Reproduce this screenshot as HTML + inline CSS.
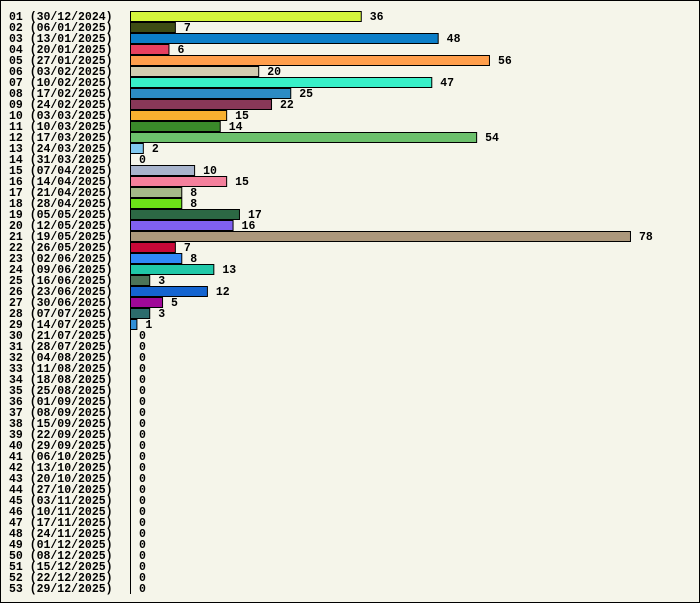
<!DOCTYPE html>
<html><head><meta charset="utf-8"><style>
html,body{margin:0;padding:0;background:#f5f5ea;}
#frame{position:absolute;left:0;top:0;width:698px;height:601px;border:1px solid #000;background:#f5f5ea;}
svg{position:absolute;left:0;top:0;}
text{font-family:"Liberation Mono","DejaVu Sans Mono",monospace;font-weight:bold;font-size:11.5px;fill:#000;}
</style></head><body>
<div id="frame"></div>
<svg id="chart" width="700" height="603"></svg>
<script>
const labels=["01 (30/12/2024)","02 (06/01/2025)","03 (13/01/2025)","04 (20/01/2025)","05 (27/01/2025)","06 (03/02/2025)","07 (10/02/2025)","08 (17/02/2025)","09 (24/02/2025)","10 (03/03/2025)","11 (10/03/2025)","12 (17/03/2025)","13 (24/03/2025)","14 (31/03/2025)","15 (07/04/2025)","16 (14/04/2025)","17 (21/04/2025)","18 (28/04/2025)","19 (05/05/2025)","20 (12/05/2025)","21 (19/05/2025)","22 (26/05/2025)","23 (02/06/2025)","24 (09/06/2025)","25 (16/06/2025)","26 (23/06/2025)","27 (30/06/2025)","28 (07/07/2025)","29 (14/07/2025)","30 (21/07/2025)","31 (28/07/2025)","32 (04/08/2025)","33 (11/08/2025)","34 (18/08/2025)","35 (25/08/2025)","36 (01/09/2025)","37 (08/09/2025)","38 (15/09/2025)","39 (22/09/2025)","40 (29/09/2025)","41 (06/10/2025)","42 (13/10/2025)","43 (20/10/2025)","44 (27/10/2025)","45 (03/11/2025)","46 (10/11/2025)","47 (17/11/2025)","48 (24/11/2025)","49 (01/12/2025)","50 (08/12/2025)","51 (15/12/2025)","52 (22/12/2025)","53 (29/12/2025)"];
const values=[36,7,48,6,56,20,47,25,22,15,14,54,2,0,10,15,8,8,17,16,78,7,8,13,3,12,5,3,1,0,0,0,0,0,0,0,0,0,0,0,0,0,0,0,0,0,0,0,0,0,0,0,0];
const colors=["#d4f53c","#3e4c14","#0c7ec8","#e84060","#ff9e4c","#d2cdb0","#38f0c8","#2c8cc4","#883858","#f8b030","#3a8a2a","#6cc06c","#80c8f0","#ffffff","#a8b4cc","#f4809c","#a4b888","#6ce018","#2c6844","#8060f0","#ac987c","#c80838","#3088f8","#20c8a8","#4c7458","#1464d0","#a00898","#2c6c6c","#3090d8"];
const svg=document.getElementById('chart');
const NS="http://www.w3.org/2000/svg";
const x0=130, pxPer=6.41, y0=11, rowH=11;
const xs=v=>x0+v*pxPer, ys=i=>y0+i*rowH;
function mk(t,a){const e=document.createElementNS(NS,t);for(const k in a)e.setAttribute(k,a[k]);svg.appendChild(e);return e;}
labels.forEach((lab,i)=>{
  const t=mk('text',{x:9,y:ys(i)+9});t.textContent=lab;
  
  
  const v=values[i];
  if(v>0){
    const r=mk('rect',{x:x0+0.5,y:ys(i)+0.5,width:v*pxPer,height:rowH-1,fill:colors[i%colors.length],stroke:'#000','stroke-width':1});
    
    
  }
  const vt=mk('text',{x:xs(v)+(v>0?9:9),y:ys(i)+9});vt.textContent=String(v);
  
  
});
const ax=mk('line',{x1:x0+0.5,y1:y0,x2:x0+0.5,y2:ys(labels.length),stroke:'#000','stroke-width':1});


</script>
</body></html>
